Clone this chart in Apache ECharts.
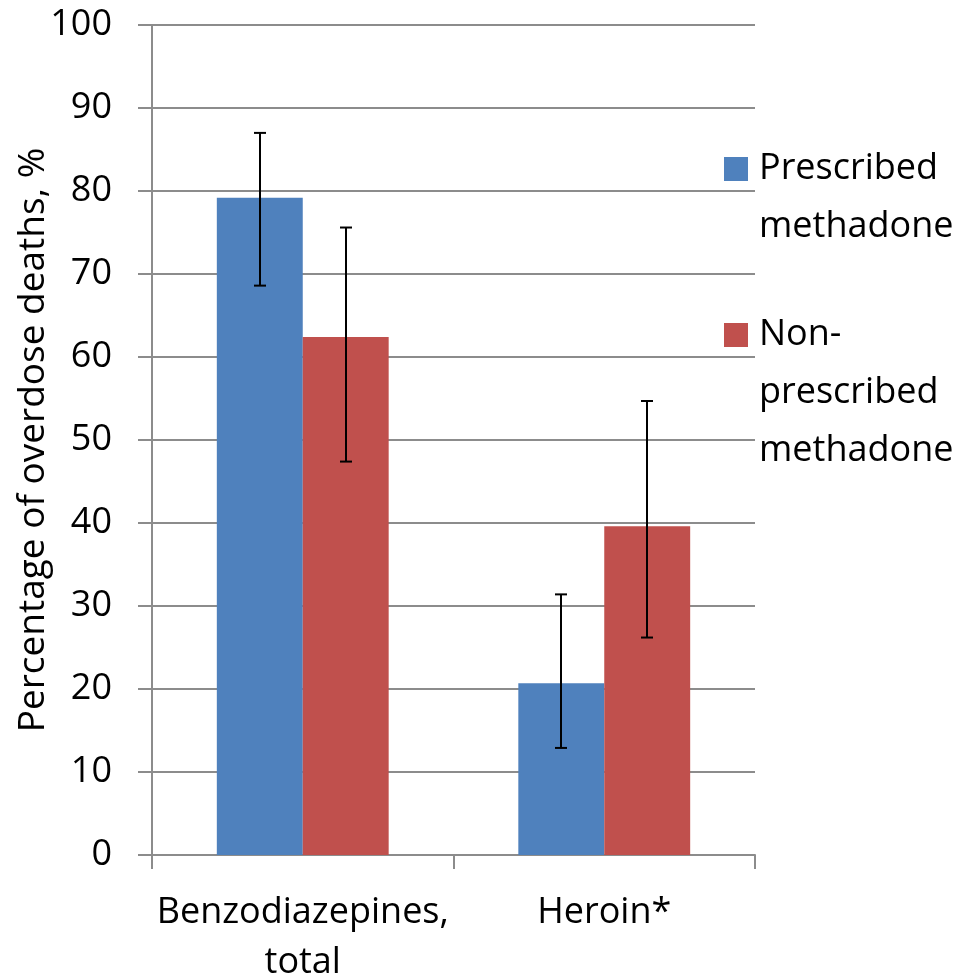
<!DOCTYPE html>
<html>
<head>
<meta charset="utf-8">
<script src="https://cdn.jsdelivr.net/npm/echarts@6/dist/echarts.min.js"></script>
<style>html,body{margin:0;padding:0;background:#fff;overflow:hidden;}#c{width:964px;height:979px;}</style>
</head>
<body>
<div id="c"></div>
<script>
const categories = ['Benzodiazepines,\ntotal', 'Heroin*'];
const seriesNames = ['Prescribed\nmethadone', 'Non-\nprescribed\nmethadone'];
const prescribed = [79.2, 20.7];
const nonPrescribed = [62.4, 39.6];
const prescribedErr = [[68.6, 87.0], [12.9, 31.4]];
const nonPrescribedErr = [[47.4, 75.6], [26.2, 54.7]];
const yTicks = [0, 10, 20, 30, 40, 50, 60, 70, 80, 90, 100];

const FONT = 'Open Sans';
const BAR_FRAC = 0.285;
const colors = ['#4f81bd', '#c0504d'];

function errData(errs, sIdx) {
  return errs.map((e, i) => [i, e[0], e[1], sIdx]);
}

function renderErr(params, api) {
  const ci = api.value(0);
  const lo = api.value(1);
  const hi = api.value(2);
  const s = api.value(3);
  const catW = api.size([1, 0])[0];
  const bw = catW * BAR_FRAC;
  const off = s === 0 ? -bw / 2 : bw / 2;
  const pLo = api.coord([ci, lo]);
  const pHi = api.coord([ci, hi]);
  const x = Math.round(pLo[0] + off);
  const cap = 6;
  const st = { stroke: '#000', lineWidth: 2 };
  return {
    type: 'group',
    children: [
      { type: 'line', shape: { x1: x, y1: pLo[1], x2: x, y2: pHi[1] }, style: st },
      { type: 'line', shape: { x1: x - cap, y1: pLo[1], x2: x + cap, y2: pLo[1] }, style: st },
      { type: 'line', shape: { x1: x - cap, y1: pHi[1], x2: x + cap, y2: pHi[1] }, style: st }
    ]
  };
}

// legend text: pad with blank lines so the first line sits level with the swatch
function legendFormatter(name) {
  const lines = name.split('\n');
  const pad = [];
  for (let i = 0; i < lines.length - 1; i++) pad.push(' ');
  return pad.concat(lines).join('\n');
}

const chart = echarts.init(document.getElementById('c'), null, { renderer: 'canvas' });
const legendText = { fontFamily: FONT, fontSize: 36, color: '#000', lineHeight: 58, padding: [0, 0, 0, 6] };
chart.setOption({
  animation: false,
  backgroundColor: '#fff',
  grid: { left: 152, width: 603, top: 25, height: 830, containLabel: false, outerBoundsMode: 'none' },
  legend: [
    {
      left: 724, top: 82, orient: 'vertical', padding: 0,
      itemWidth: 24, itemHeight: 24, icon: 'rect',
      data: [seriesNames[0]], formatter: legendFormatter,
      textStyle: legendText, selectedMode: false
    },
    {
      left: 724, top: 190, orient: 'vertical', padding: 0,
      itemWidth: 24, itemHeight: 24, icon: 'rect',
      data: [seriesNames[1]], formatter: legendFormatter,
      textStyle: legendText, selectedMode: false
    }
  ],
  xAxis: {
    type: 'category',
    data: categories,
    axisLine: { show: true, lineStyle: { color: '#8c8c8c', width: 2 } },
    axisTick: { show: true, length: 14, lineStyle: { color: '#8c8c8c', width: 2 } },
    axisLabel: { fontFamily: FONT, fontSize: 36, color: '#000', lineHeight: 50, margin: 33, interval: 0 },
    splitLine: { show: false }
  },
  yAxis: {
    type: 'value',
    min: 0, max: 100, interval: 10,
    name: 'Percentage of overdose deaths, %',
    nameLocation: 'middle',
    nameRotate: 90,
    nameGap: 100,
    nameMoveOverlap: false,
    nameTextStyle: { fontFamily: FONT, fontSize: 37, color: '#000' },
    axisLine: { show: true, lineStyle: { color: '#8c8c8c', width: 2 } },
    axisTick: { show: true, length: 14, lineStyle: { color: '#8c8c8c', width: 2 } },
    axisLabel: {
      fontFamily: FONT, fontSize: 36, color: '#000', margin: 40,
      formatter: v => (yTicks.indexOf(v) >= 0 ? String(v) : '')
    },
    splitLine: { show: true, lineStyle: { color: '#8c8c8c', width: 2 } }
  },
  series: [
    {
      name: seriesNames[0], type: 'bar', data: prescribed,
      barWidth: (BAR_FRAC * 100) + '%', barGap: '0%',
      itemStyle: { color: colors[0] }
    },
    {
      name: seriesNames[1], type: 'bar', data: nonPrescribed,
      barWidth: (BAR_FRAC * 100) + '%', barGap: '0%',
      itemStyle: { color: colors[1] }
    },
    {
      type: 'custom', name: 'errP', renderItem: renderErr,
      data: errData(prescribedErr, 0), encode: { x: 0, y: [1, 2] }, z: 10
    },
    {
      type: 'custom', name: 'errN', renderItem: renderErr,
      data: errData(nonPrescribedErr, 1), encode: { x: 0, y: [1, 2] }, z: 10
    }
  ]
});
</script>
</body>
</html>
